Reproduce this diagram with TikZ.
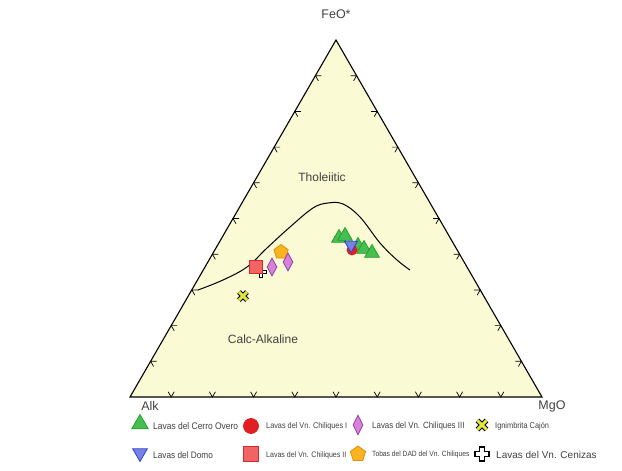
\documentclass[tikz,border=0pt]{standalone}
\usepackage{fontspec}
\setmainfont{Liberation Sans}
\newfontfamily\legfont{Liberation Sans}[FakeStretch=0.88]
\usetikzlibrary{calc, shapes.geometric}

\definecolor{plotfill}{RGB}{250,250,212}
\definecolor{txtgray}{RGB}{64,64,64}
\definecolor{ovfill}{RGB}{70,190,80}
\definecolor{ovline}{RGB}{40,160,50}
\definecolor{domofill}{RGB}{120,130,230}
\definecolor{domoline}{RGB}{40,70,200}
\definecolor{chIfill}{RGB}{225,30,35}
\definecolor{chIIfill}{RGB}{240,100,100}
\definecolor{chIIline}{RGB}{215,40,45}
\definecolor{chIIIfill}{RGB}{215,130,215}
\definecolor{chIIIline}{RGB}{150,60,170}
\definecolor{dadfill}{RGB}{250,180,30}
\definecolor{dadline}{RGB}{225,140,20}
\definecolor{cajonfill}{RGB}{225,230,60}

\tikzset{
    mk/.style={inner sep=0pt, line width=0.8pt},
    overo/.style={mk, regular polygon, regular polygon sides=3, minimum size=#1, fill=ovfill, draw=ovline},
    overo/.default=19pt,
    domo/.style={mk, regular polygon, regular polygon sides=3, shape border rotate=180, minimum size=#1, fill=domofill, draw=domoline},
    domo/.default=15pt,
    chiqI/.style={mk, circle, minimum size=#1, fill=chIfill, draw=chIfill},
    chiqI/.default=10pt,
    chiqII/.style={mk, rectangle, minimum size=#1, fill=chIIfill, draw=chIIline},
    chiqII/.default=13pt,
    chiqIII/.style={mk, diamond, minimum width=10pt, minimum height=#1, fill=chIIIfill, draw=chIIIline},
    chiqIII/.default=18pt,
    dad/.style={mk, regular polygon, regular polygon sides=5, minimum size=#1, fill=dadfill, draw=dadline},
    dad/.default=15pt,
    legtext/.style={anchor=west, inner sep=0pt, text=txtgray, font=\legfont\fontsize{#1}{10}\selectfont},
    legtext/.default=9,
    axlabel/.style={text=txtgray, font=\fontsize{12.5}{14}\selectfont},
    field/.style={text=txtgray, font=\fontsize{12}{14}\selectfont},
    tick/.style={line width=0.7pt},
    cajon/.pic={
        \draw[line width=5pt] (-4,-4) -- (4,4) (-4,4) -- (4,-4);
        \draw[line width=3pt, cajonfill] (-4,-4) -- (4,4) (-4,4) -- (4,-4);
    },
    ceniza/.pic={
        \filldraw[fill=white, line width=1.1pt] (-2.5,-7) -- (2.5,-7) -- (2.5,-2.5) -- (7,-2.5)
            -- (7,2.5) -- (2.5,2.5) -- (2.5,7) -- (-2.5,7) -- (-2.5,2.5) -- (-7,2.5)
            -- (-7,-2.5) -- (-2.5,-2.5) -- cycle;
    },
}

\begin{document}
\begin{tikzpicture}[x=1pt, y=-1pt]

    \useasboundingbox (0,0) rectangle (622,471);

    % Vertices of the AFM triangle
    \coordinate (A) at (130,397);   % Alk
    \coordinate (M) at (542,397);   % MgO
    \coordinate (F) at (336,40);    % FeO*

    % 1. Triangle
    \filldraw[fill=plotfill, line width=1.1pt] (A) -- (M) -- (F) -- cycle;

    % 2. Ticks every 10 %
    \foreach \i in {1,...,9} {
        \coordinate (b\i) at ($(A)!\i/10!(M)$);
        \coordinate (l\i) at ($(A)!\i/10!(F)$);
        \coordinate (r\i) at ($(M)!\i/10!(F)$);
        \draw[tick] ($(b\i)+(-3,-5.2)$) -- (b\i) -- ($(b\i)+(3,-5.2)$);
        \draw[tick] ($(l\i)+(6,0)$) -- (l\i) -- ($(l\i)+(3,5.2)$);
        \draw[tick] ($(r\i)+(-6,0)$) -- (r\i) -- ($(r\i)+(-3,5.2)$);
    }

    % 3. Tholeiitic / calc-alkaline boundary
    \draw[line width=1pt] plot[smooth, tension=0.6] coordinates {
        (198,290) (223,280) (247,267) (267,248) (290,227) (313,208)
        (328,203) (343,204) (360,217) (380,243) (397,260) (410,270)};

    % 4. Vertex and field labels
    \node[axlabel] (feo) at (336,14) {FeO*};
    \node[axlabel] (alk) at (150,406) {Alk};
    \node[axlabel] (mgo) at (552,406) {MgO};
    \node[field] (thol) at (322,177) {Tholeiitic};
    \node[field] (calc) at (263,339) {Calc-Alkaline};

    % 5. Samples
    \pic[scale=0.75] at (261,272) {ceniza};
    \node[chiqII] (s1) at (256,267) {};
    \node[dad] (s2) at (281,252) {};
    \node[chiqIII] (s3) at (272,267) {};
    \node[chiqIII] (s4) at (288,262) {};
    \pic at (243,296) {cajon};

    \node[overo=17pt] (s5) at (339,238) {};
    \node[overo=17pt] (s6) at (345,236) {};
    \node[overo=17pt] (s7) at (358,246) {};
    \node[overo=17pt] (s8) at (364,249) {};
    \node[overo=17pt] (s9) at (372,253) {};
    \node[chiqI] (s10) at (352,250) {};
    \node[domo] (s11) at (351,245) {};

    % 6. Legend
    \node[overo] (k1) at (140,424) {};
    \node[legtext=9.6] (t1) at (153,426) {Lavas del Cerro Overo};
    \node[domo=17pt] (k2) at (140,453) {};
    \node[legtext=9.4] (t2) at (153,455) {Lavas del Domo};
    \node[chiqI=15pt] (k3) at (251,426) {};
    \node[legtext=8.3] (t3) at (266,426) {Lavas del Vn. Chiliques I};
    \node[chiqII=15pt] (k4) at (251,454) {};
    \node[legtext=8] (t4) at (266,455) {Lavas del Vn. Chiliques II};
    \node[chiqIII=20pt] (k5) at (358,425) {};
    \node[legtext=9] (t5) at (372,426) {Lavas del Vn. Chiliques III};
    \node[dad=16pt] (k6) at (358,454) {};
    \node[legtext=7.6] (t6) at (372,455) {Tobas del DAD del Vn. Chiliques};
    \pic[scale=1.15] at (482,425) {cajon};
    \node[legtext=8.4] (t7) at (495,426) {Ignimbrita Cajón};
    \pic at (482,454) {ceniza};
    \node[anchor=west, inner sep=0pt, text=txtgray, font=\fontsize{10}{11}\selectfont] (t8) at (496,455) {Lavas del Vn. Cenizas};

\end{tikzpicture}
\end{document}
